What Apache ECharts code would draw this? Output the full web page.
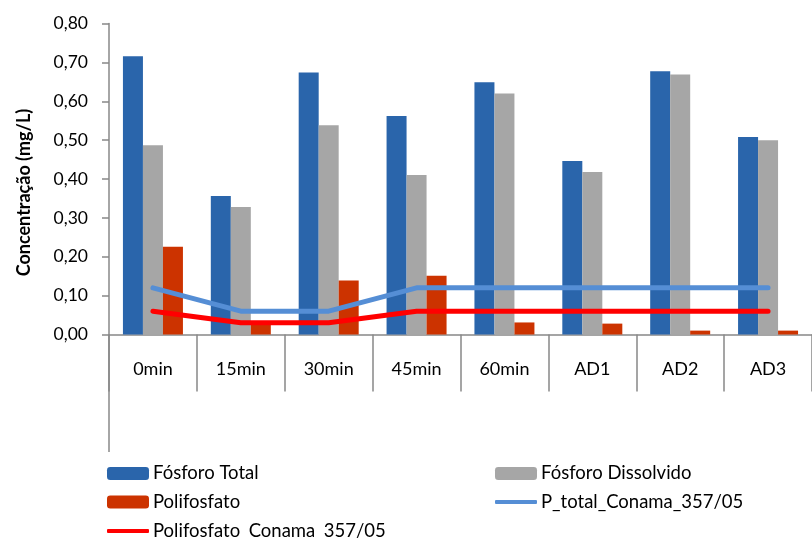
<!DOCTYPE html>
<html>
<head>
<meta charset="utf-8">
<script src="https://cdn.jsdelivr.net/npm/echarts@6/dist/echarts.min.js"></script>
<style>
  html, body { margin: 0; padding: 0; background: #fff; }
  #chart { width: 812px; height: 538px; }
</style>
</head>
<body>
<div id="chart"></div>
<script>
// Sampling points
const categories = ['0min', '15min', '30min', '45min', '60min', 'AD1', 'AD2', 'AD3'];

// Phosphorus concentrations (mg/L)
const fosforoTotal      = [0.716, 0.356, 0.674, 0.562, 0.649, 0.446, 0.677, 0.508];
const fosforoDissolvido = [0.487, 0.328, 0.538, 0.410, 0.620, 0.418, 0.669, 0.500];
const polifosfato       = [0.226, 0.030, 0.139, 0.151, 0.031, 0.028, 0.010, 0.010];

// CONAMA 357/05 reference limits
const pTotalConama      = [0.12, 0.06, 0.06, 0.12, 0.12, 0.12, 0.12, 0.12];
const polifosfatoConama = [0.06, 0.03, 0.03, 0.06, 0.06, 0.06, 0.06, 0.06];

const seriesNames = ['Fósforo Total', 'Fósforo Dissolvido', 'Polifosfato',
                     'P_total_Conama_357/05', 'Polifosfato_Conama_357/05'];

const FONT = 'Lato, "Open Sans", sans-serif';
const AXIS_GREY = '#888888';
const GRID = { left: 109, top: 23.5, right: -10.6, bottom: 203.5 };

const chart = echarts.init(document.getElementById('chart'), null, { renderer: 'canvas' });

// one legend component per entry so the two columns line up
function legendAt(name, left, centerY, isLine) {
  return {
    data: [isLine ? { name: name, icon: 'roundRect' } : name],
    left: left,
    top: centerY - 10,
    padding: 0,
    itemWidth: 42,
    itemHeight: isLine ? 4 : 13,
    itemGap: 0,
    selectedMode: false,
    textStyle: { fontFamily: FONT, fontSize: 18.5, lineHeight: 20, color: '#000', padding: [0, 0, 0, -1] }
  };
}

const option = {
  animation: false,
  backgroundColor: '#ffffff',
  grid: GRID,
  legend: [
    legendAt(seriesNames[0], 107, 473.5, false),
    legendAt(seriesNames[2], 107, 502, false),
    legendAt(seriesNames[4], 107, 531, true),
    legendAt(seriesNames[1], 495, 473.5, false),
    legendAt(seriesNames[3], 495, 502, true)
  ],
  xAxis: {
    type: 'category',
    data: categories,
    boundaryGap: true,
    axisLine: { lineStyle: { color: AXIS_GREY, width: 1.5 } },
    axisTick: { show: true, length: 57, lineStyle: { color: AXIS_GREY, width: 1.5 } },
    axisLabel: { fontFamily: FONT, fontSize: 18, color: '#000', margin: 26 },
    splitLine: { show: false }
  },
  yAxis: {
    type: 'value',
    min: 0,
    max: 0.8,
    interval: 0.1,
    axisLine: { show: true, lineStyle: { color: AXIS_GREY, width: 1.5 } },
    axisTick: { show: true, length: 7, lineStyle: { color: AXIS_GREY, width: 1.5 } },
    axisLabel: {
      fontFamily: FONT, fontSize: 17.5, color: '#000', margin: 21,
      formatter: v => v.toFixed(2).replace('.', ',')
    },
    splitLine: { show: false }
  },
  graphic: [
    {
      // value axis continues down through the category label band
      type: 'line',
      shape: { x1: GRID.left, y1: 538 - GRID.bottom, x2: GRID.left, y2: 452 },
      style: { stroke: AXIS_GREY, lineWidth: 1.5 }
    },
    {
      type: 'text',
      x: 24,
      y: 192.5,
      rotation: Math.PI / 2,
      style: {
        text: 'Concentração (mg/L)',
        fontFamily: FONT,
        fontSize: 18,
        fontWeight: 'bold',
        fill: '#000',
        align: 'center',
        verticalAlign: 'middle'
      }
    }
  ],
  series: [
    {
      name: seriesNames[0], type: 'bar', data: fosforoTotal,
      barWidth: 20, barGap: '0%',
      itemStyle: { color: '#2A65AB' }
    },
    {
      name: seriesNames[1], type: 'bar', data: fosforoDissolvido,
      barWidth: 20, barGap: '0%',
      itemStyle: { color: '#A6A6A6' }
    },
    {
      name: seriesNames[2], type: 'bar', data: polifosfato,
      barWidth: 20, barGap: '0%',
      itemStyle: { color: '#CC3300' }
    },
    {
      name: seriesNames[3], type: 'line', data: pTotalConama,
      symbol: 'none', showSymbol: false, z: 5,
      lineStyle: { color: '#558ED5', width: 5, cap: 'round', join: 'round' },
      itemStyle: { color: '#558ED5' }
    },
    {
      name: seriesNames[4], type: 'line', data: polifosfatoConama,
      symbol: 'none', showSymbol: false, z: 5,
      lineStyle: { color: '#FF0000', width: 5, cap: 'round', join: 'round' },
      itemStyle: { color: '#FF0000' }
    }
  ]
};

chart.setOption(option);
</script>
</body>
</html>
